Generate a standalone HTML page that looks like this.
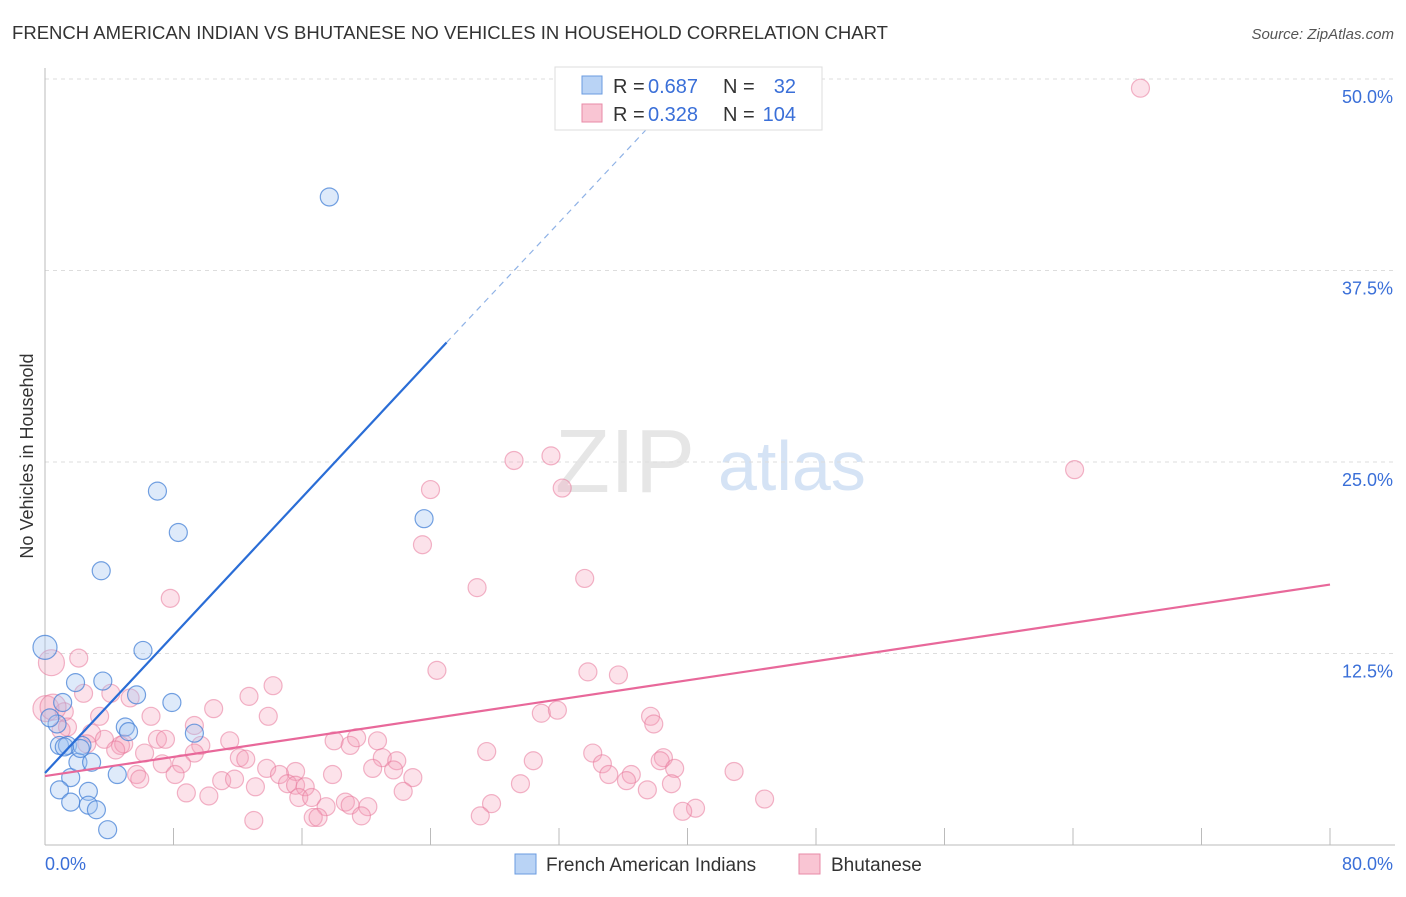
<!DOCTYPE html>
<html><head><meta charset="utf-8"><style>
body{margin:0;background:#fff;font-family:"Liberation Sans",sans-serif}
svg text{font-family:"Liberation Sans",sans-serif}
</style></head><body>
<svg id="c" width="1406" height="892" xmlns="http://www.w3.org/2000/svg">
<text x="12" y="39" font-size="18" fill="#333" textLength="876" lengthAdjust="spacingAndGlyphs">FRENCH AMERICAN INDIAN VS BHUTANESE NO VEHICLES IN HOUSEHOLD CORRELATION CHART</text>
<text x="1394" y="39" font-size="15" fill="#555" font-style="italic" text-anchor="end">Source: ZipAtlas.com</text>
<text x="33" y="456" font-size="18" fill="#333" text-anchor="middle" transform="rotate(-90 33 456)">No Vehicles in Household</text>
<g><text x="555" y="492" font-size="90" fill="#e6e6e6" font-family="Liberation Serif">ZIP</text><text x="718" y="490" font-size="70" fill="#d5e3f5">atlas</text></g>
<g id="grid"></g><g id="axes"></g><g id="pts"></g><g id="lines"></g>
<g>
<rect x="555" y="67" width="267" height="63" fill="#fff" stroke="#ddd"/>
<rect x="582" y="76" width="20" height="18" fill="#b9d3f5" stroke="#6a9be0"/>
<rect x="582" y="104" width="20" height="18" fill="#f9c5d3" stroke="#e88aa7"/>
<text x="613" y="93" font-size="20" fill="#333">R =</text>
<text x="648" y="93" font-size="20" fill="#3a6fd8">0.687</text>
<text x="723" y="93" font-size="20" fill="#333">N =</text>
<text x="796" y="93" font-size="20" fill="#3a6fd8" text-anchor="end">32</text>
<text x="613" y="121" font-size="20" fill="#333">R =</text>
<text x="648" y="121" font-size="20" fill="#3a6fd8">0.328</text>
<text x="723" y="121" font-size="20" fill="#333">N =</text>
<text x="796" y="121" font-size="20" fill="#3a6fd8" text-anchor="end">104</text>
</g>
<g>
<rect x="515" y="854" width="21" height="20" fill="#b9d3f5" stroke="#6a9be0"/>
<text x="546" y="871" font-size="19" fill="#333">French American Indians</text>
<rect x="799" y="854" width="21" height="20" fill="#f9c5d3" stroke="#e88aa7"/>
<text x="831" y="871" font-size="19" fill="#333">Bhutanese</text>
</g>
</svg>
<script>
const blueX=[0,0.75,0.9,1.1,1.4,1.6,0.9,1.6,1.9,2.05,2.3,2.7,2.7,2.9,3.2,3.5,3.6,3.9,4.5,5.0,5.2,5.7,6.1,7.0,7.9,8.3,9.3,17.7,23.6,2.2,0.3,1.2];
const blueY=[12.9,7.9,6.5,9.3,6.5,4.4,3.6,2.8,10.6,5.4,6.5,3.5,2.6,5.4,2.3,17.9,10.7,1.0,4.6,7.7,7.4,9.8,12.7,23.1,9.3,20.4,7.3,42.3,21.3,6.3,8.3,6.4];
const pinkX=[68.2,64.1,31.5,29.2,32.2,24.0,23.5,33.6,26.9,7.8,0.4,2.1,24.4,33.8,35.7,14.2,12.7,2.4,4.1,5.3,0.06,1.2,3.4,6.6,10.5,13.9,30.9,31.9,37.7,37.9,9.3,1.4,2.9,3.7,4.7,4.9,7.0,7.5,9.7,11.5,6.2,4.4,18.0,19.0,19.4,20.7,9.3,27.5,34.1,38.5,38.3,30.4,34.7,21.0,21.9,12.1,12.5,7.3,8.5,13.8,15.6,20.4,21.7,39.2,42.9,5.7,5.9,8.1,11.0,11.8,14.6,17.9,22.9,35.1,36.5,36.2,39.0,29.6,15.1,15.6,13.1,16.2,8.8,10.2,15.8,22.3,37.5,16.6,18.7,27.8,44.8,17.5,19.0,20.1,40.5,39.7,19.7,27.1,16.7,17.0,13.0,1.0,2.6,0.5];
const pinkY=[49.4,24.5,25.4,25.1,23.3,23.2,19.6,17.4,16.8,16.1,11.9,12.2,11.4,11.3,11.1,10.4,9.7,9.9,9.9,9.6,8.9,8.7,8.4,8.4,8.9,8.4,8.6,8.8,8.4,7.9,7.8,7.7,7.3,6.9,6.5,6.6,6.9,6.9,6.5,6.8,6.0,6.2,6.8,6.5,7.0,6.8,6.0,6.1,6.0,5.7,5.5,5.5,5.3,5.7,5.5,5.7,5.6,5.3,5.3,5.0,4.8,5.0,4.9,5.0,4.8,4.6,4.3,4.6,4.2,4.3,4.6,4.6,4.4,4.6,4.6,4.2,4.0,4.0,4.0,3.9,3.8,3.8,3.4,3.2,3.1,3.5,3.6,3.1,2.8,2.7,3.0,2.5,2.6,2.5,2.4,2.2,1.9,1.9,1.8,1.8,1.6,7.5,6.6,9.0];
const yTicks=[12.5,25,37.5,50];
const yTickLabels=["12.5%","25.0%","37.5%","50.0%"];
const blueFit=[[0,4.7],[25.0,32.8]], blueDash=[[25.0,32.8],[37.7,47.0]];
const pinkFit=[[0,4.5],[80,17.0]];
const NS="http://www.w3.org/2000/svg";
const X=v=>45+v*1285/80, Y=v=>845-v*15.32;
function mk(t,a,p){const e=document.createElementNS(NS,t);for(const k in a)e.setAttribute(k,a[k]);p.appendChild(e);return e;}
const grid=document.getElementById('grid'),axes=document.getElementById('axes'),pts=document.getElementById('pts'),lines=document.getElementById('lines');
yTicks.forEach((t,i)=>{
 const l=mk('line',{x1:45,x2:1395,y1:Y(t),y2:Y(t),stroke:'#ddd','stroke-dasharray':'4,4'},grid);
 
 
 const tx=mk('text',{x:1393,y:Y(t)+24,'font-size':18,fill:'#3a6fd8','text-anchor':'end'},axes);
 tx.textContent=yTickLabels[i];
 
 
});
let a=mk('line',{x1:45,x2:45,y1:68,y2:845,stroke:'#bbb'},axes);


a=mk('line',{x1:45,x2:1395,y1:845,y2:845,stroke:'#bbb'},axes);


for(let i=1;i<=10;i++){const t=mk('line',{x1:X(i*8),x2:X(i*8),y1:828,y2:845,stroke:'#bbb'},axes);
 
 }
[["0.0%",45,'start'],["80.0%",1393,'end']].forEach(d=>{const t=mk('text',{x:d[1],y:870,'font-size':18,fill:'#3a6fd8','text-anchor':d[2]},axes);t.textContent=d[0];
 
 });
pinkX.forEach((v,i)=>{const r=(v<0.6&&pinkY[i]>8)?13:9;const c=mk('circle',{cx:X(v),cy:Y(pinkY[i]),r:r,fill:'rgba(244,160,186,0.3)',stroke:'rgba(232,120,155,0.55)','stroke-width':1.2},pts);
 
 });
blueX.forEach((v,i)=>{const r=v===0?12:9;const c=mk('circle',{cx:X(v),cy:Y(blueY[i]),r:r,fill:'rgba(160,195,240,0.35)',stroke:'rgba(70,130,215,0.75)','stroke-width':1.2},pts);
 
 });
let l=mk('line',{x1:X(blueFit[0][0]),y1:Y(blueFit[0][1]),x2:X(blueFit[1][0]),y2:Y(blueFit[1][1]),stroke:'#2a6dd6','stroke-width':2.2},lines);


l=mk('line',{x1:X(blueDash[0][0]),y1:Y(blueDash[0][1]),x2:X(blueDash[1][0]),y2:Y(blueDash[1][1]),stroke:'#8fb2e6','stroke-width':1.2,'stroke-dasharray':'6,5'},lines);


l=mk('line',{x1:X(pinkFit[0][0]),y1:Y(pinkFit[0][1]),x2:X(pinkFit[1][0]),y2:Y(pinkFit[1][1]),stroke:'#e8689a','stroke-width':2.2},lines);


</script>
</body></html>
